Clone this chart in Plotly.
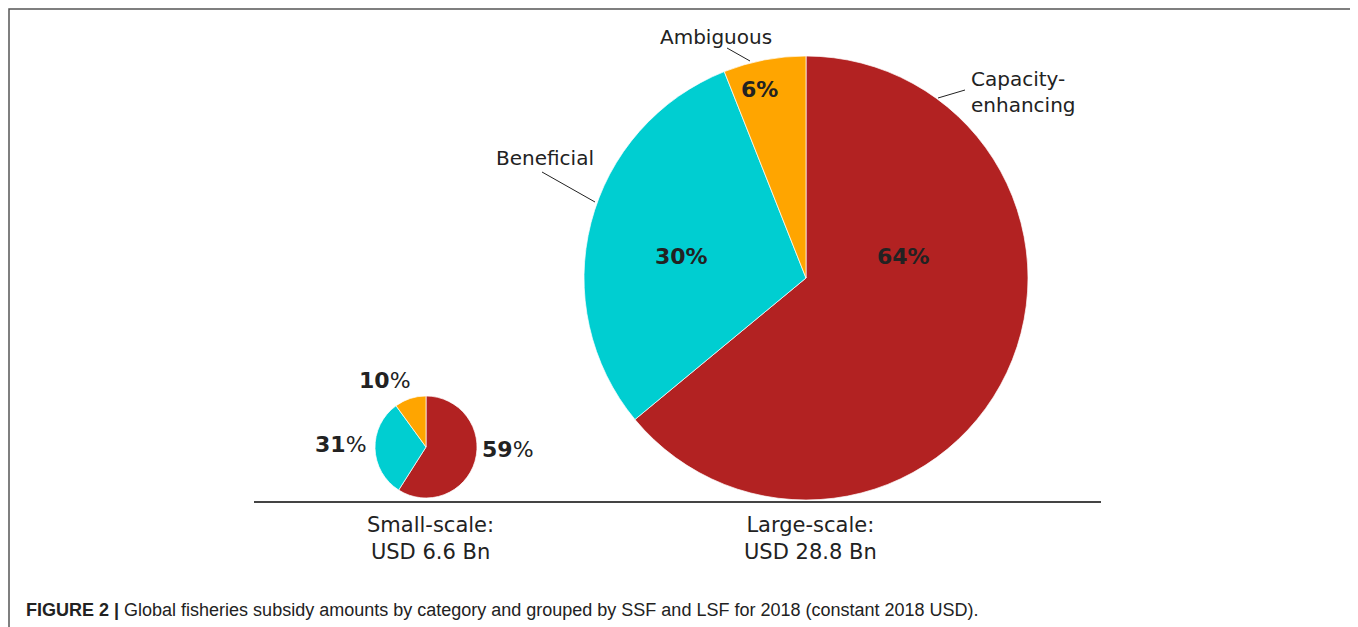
import plotly.graph_objects as go

# page body has an 8px margin; figure coordinates are offset by it
OFF = 8
W, H = 1350, 619

categories = ["Capacity-enhancing", "Beneficial", "Ambiguous"]
colors = ["#B22222", "#00CED1", "#FFA500"]
large_values = [64, 30, 6]
small_values = [59, 31, 10]
group_titles = ["Small-scale:<br>USD 6.6 Bn", "Large-scale:<br>USD 28.8 Bn"]
caption = ("<b>FIGURE 2 |</b> Global fisheries subsidy amounts by category and "
           "grouped by SSF and LSF for 2018 (constant 2018 USD).")


def px(x, y):
    return (x - OFF) / W, 1 - (y - OFF) / H


def dom(cx, cy, r):
    x0, y1 = px(cx - r, cy - r)
    x1, y0 = px(cx + r, cy + r)
    return dict(x=[x0, x1], y=[y0, y1])


fig = go.Figure()
fig.add_trace(go.Pie(
    labels=categories, values=large_values, sort=False, direction="clockwise",
    rotation=0, marker=dict(colors=colors, line=dict(color="rgba(255,255,255,0.7)", width=1)),
    textinfo="none", hoverinfo="label+percent", showlegend=False,
    domain=dom(806, 278, 222),
))
fig.add_trace(go.Pie(
    labels=categories, values=small_values, sort=False, direction="clockwise",
    rotation=0, marker=dict(colors=colors, line=dict(color="rgba(255,255,255,0.7)", width=1)),
    textinfo="none", hoverinfo="label+percent", showlegend=False,
    domain=dom(426, 447, 51),
))

font_main = "DejaVu Sans, Verdana, sans-serif"
ann = []


def add_text(x, y, text, size, xanchor="center", align="center", family=font_main):
    ax, ay = px(x, y)
    ann.append(dict(x=ax, y=ay, xref="paper", yref="paper", text=text, showarrow=False,
                    xanchor=xanchor, yanchor="middle", align=align,
                    font=dict(family=family, size=size, color="#222")))


# large pie percent labels
large_pos = [(903, 256), (681, 256), (759, 89)]
for v, (x, y) in zip(large_values, large_pos):
    add_text(x, y, f"<b>{v}%</b>", 22)
# small pie percent labels
small_pos = [(508, 449), (341, 444), (385, 380)]
for v, (x, y) in zip(small_values, small_pos):
    add_text(x, y, f"<b>{v}</b>%", 22)
# category labels
cat_text = ["Capacity-<br>enhancing", "Beneficial", "Ambiguous"]
cat_pos = [(969, 92, "left"), (545, 158, "center"), (716, 37, "center")]
for t, (x, y, al) in zip(cat_text, cat_pos):
    add_text(x, y, t, 20, xanchor=al, align="left")
# group titles
for t, x in zip(group_titles, [430, 810]):
    add_text(x, 538, t, 21)
# caption
add_text(24, 610, caption, 18, xanchor="left", align="left",
         family="Liberation Sans, Arial, sans-serif")

shapes = []
leaders = [((938, 98), (965, 90)), ((542, 172), (595, 202)), ((727, 48), (750, 61))]
for (x0, y0), (x1, y1) in leaders:
    a0, b0 = px(x0, y0)
    a1, b1 = px(x1, y1)
    shapes.append(dict(type="line", xref="paper", yref="paper", x0=a0, y0=b0, x1=a1, y1=b1,
                       line=dict(color="#222", width=1)))
# baseline
a0, b0 = px(254, 502)
a1, b1 = px(1101, 502)
shapes.append(dict(type="line", xref="paper", yref="paper", x0=a0, y0=b0, x1=a1, y1=b1,
                   line=dict(color="#444", width=2)))
# border
a0, b0 = px(9, 9)
a1, _ = px(1355, 9)
shapes.append(dict(type="rect", xref="paper", yref="paper", x0=a0, y0=b0, x1=a1, y1=-0.05,
                   line=dict(color="#555", width=1.5)))

fig.update_layout(
    width=W, height=H, margin=dict(l=0, r=0, t=0, b=0),
    paper_bgcolor="white", plot_bgcolor="white",
    annotations=ann, shapes=shapes,
)
fig.write_html("out.html")
